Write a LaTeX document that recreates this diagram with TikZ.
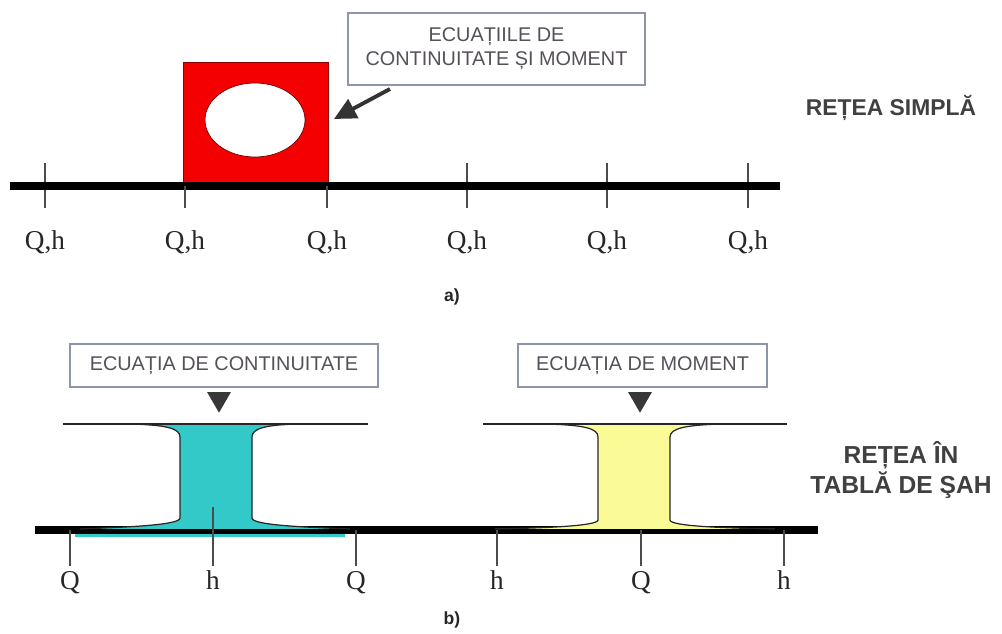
\documentclass[tikz,border=0pt]{standalone}
\usepackage{fontspec}
\setmainfont{Liberation Sans}
\newfontfamily\qfont{Liberation Serif}
\usetikzlibrary{arrows.meta,shapes.geometric}
\definecolor{boxline}{HTML}{8C96A8}
\definecolor{txtgray}{HTML}{55505A}
\definecolor{cyanfill}{HTML}{33C9C9}
\definecolor{yelfill}{HTML}{FAFA96}
\definecolor{redfill}{HTML}{F50000}
\begin{document}
\begin{tikzpicture}[x=0.02cm,y=-0.02cm,
  lbl/.style={draw=boxline, line width=0.8pt, fill=white, text=txtgray,
    font=\fontsize{11.3}{13.5}\selectfont, align=center, inner sep=0pt},
  qh/.style={font=\qfont\fontsize{15.5}{17}\selectfont, text=black!85, anchor=base},
  net/.style={font=\bfseries\fontsize{13}{16}\selectfont, text=black!75, align=center},
  capt/.style={font=\bfseries\fontsize{10}{12}\selectfont, text=black!85},
  axisline/.style={line width=4pt, black},
  tickline/.style={line width=0.6pt, black!70},
  topline/.style={line width=0.9pt, black!85},
  tri/.style={regular polygon, regular polygon sides=3, shape border rotate=180,
    fill=black!78, inner sep=0pt, minimum size=0.55cm},
  neck/.style={draw=black!85, line width=0.7pt}
]
\useasboundingbox (0,0) rectangle (1002,634);

% ---------- part a ----------
\foreach \x/\n in {45/1,185/2,327/3,467/4,607/5,748/6}{
  \coordinate (ta\n) at (\x,163);
  \coordinate (tb\n) at (\x,208);
  \draw[tickline] (ta\n) -- (tb\n);
  \node[qh] (qa\n) at (\x,250) {Q,h};
}
\node[draw=red!55!black, line width=0.4pt, fill=redfill, minimum width=2.9cm,
      minimum height=2.4cm, inner sep=0pt] (redbox) at (255.5,122) {};
\node[ellipse, draw=red!45!black, line width=0.4pt, fill=white,
      minimum width=2cm, minimum height=1.48cm, inner sep=0pt] (hole) at (255,120) {};
\coordinate (axL) at (10,186);
\coordinate (axR) at (780,186);
\draw[axisline] (axL) -- (axR);
\draw[tickline] (tb2) -- (185,186);
\draw[tickline] (tb3) -- (327,186);

\node[lbl, minimum width=5.94cm, minimum height=1.44cm] (boxa) at (496.5,49)
  {ECUAȚIILE DE\\CONTINUITATE ȘI MOMENT};
\coordinate (arrS) at (390,89);
\coordinate (arrE) at (334,119);
\draw[line width=2.2pt, black!80, -{Triangle[length=0.44cm,width=0.42cm]}] (arrS) -- (arrE);

\node[net] (simple) at (891,108) {REȚEA SIMPLĂ};
\node[capt] (capa) at (452,297) {a)};

% ---------- part b ----------
\coordinate (bxL) at (35,530);
\coordinate (bxR) at (818,530);
\draw[line width=2.5pt, cyanfill] (75,535) -- (345,535);
\draw[axisline] (bxL) -- (bxR);

% cyan I-shape
\fill[cyanfill] (130,424) .. controls (165,425) and (180,428) .. (180,437)
  -- (180,518) .. controls (180,525) and (130,527) .. (80,529)
  -- (350,529) .. controls (300,527) and (252,525) .. (252,518)
  -- (252,437) .. controls (252,428) and (267,425) .. (297,424) -- cycle;
\draw[neck] (130,424) .. controls (165,425) and (180,428) .. (180,437)
  -- (180,518) .. controls (180,525) and (130,527) .. (80,529);
\draw[neck] (297,424) .. controls (267,425) and (252,428) .. (252,437)
  -- (252,518) .. controls (252,525) and (300,527) .. (350,529);
\coordinate (c1L) at (63,424);
\coordinate (c1R) at (368,424);
\draw[topline] (c1L) -- (c1R);

% yellow I-shape
\fill[yelfill] (545,424) .. controls (583,425) and (598,428) .. (598,437)
  -- (598,520) .. controls (598,526) and (545,528) .. (495,529)
  -- (775,529) .. controls (720,528) and (670,526) .. (670,520)
  -- (670,437) .. controls (670,428) and (687,425) .. (722,424) -- cycle;
\draw[neck] (545,424) .. controls (583,425) and (598,428) .. (598,437)
  -- (598,520) .. controls (598,526) and (545,528) .. (495,529);
\draw[neck] (722,424) .. controls (687,425) and (670,428) .. (670,437)
  -- (670,520) .. controls (670,526) and (720,528) .. (775,529);
\coordinate (c2L) at (483,424);
\coordinate (c2R) at (787,424);
\draw[topline] (c2L) -- (c2R);

\foreach \x/\t/\n in {70/Q/1,213/h/2,356/Q/3,497/h/4,641/Q/5,784/h/6}{
  \coordinate (ua\n) at (\x,530);
  \coordinate (ub\n) at (\x,566);
  \draw[tickline] (ua\n) -- (ub\n);
  \node[qh] (qb\n) at (\x,590) {\t};
}
\coordinate (hmid) at (213,507);
\draw[tickline] (hmid) -- (ua2);

\node[lbl, minimum width=6.16cm, minimum height=0.86cm] (boxb1) at (224,365.5)
  {ECUAȚIA DE CONTINUITATE};
\node[lbl, minimum width=4.98cm, minimum height=0.86cm] (boxb2) at (642.5,365.5)
  {ECUAȚIA DE MOMENT};
\node[tri] (tri1) at (219,399) {};
\node[tri] (tri2) at (640,399) {};

\node[net, font=\bfseries\fontsize{14}{17.5}\selectfont] (chess) at (901,470) {REȚEA ÎN\\TABLĂ DE ŞAH};
\node[capt] (capb) at (452,620) {b)};
\end{tikzpicture}
\end{document}
